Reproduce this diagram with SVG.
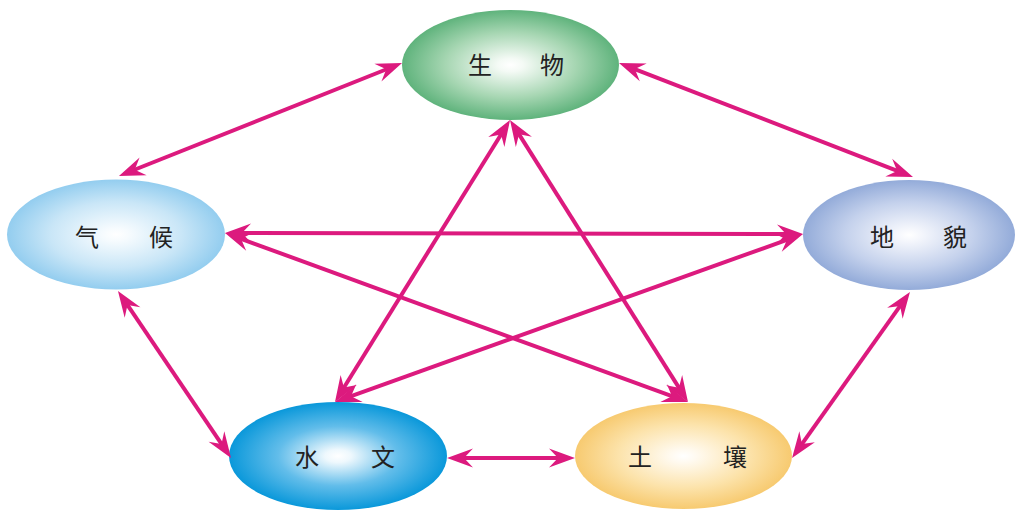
<svg xmlns="http://www.w3.org/2000/svg" width="1015" height="512" viewBox="0 0 1015 512">
<style>
.lbl{font-family:"Noto Sans CJK SC","Noto Sans CJK JP",sans-serif;font-size:24px;fill:#222;text-anchor:middle;dominant-baseline:central}
.con{stroke:#DC1A7E;stroke-width:4;fill:none;marker-start:url(#ah);marker-end:url(#ah)}
</style>
<defs>
<marker id="ah" markerUnits="userSpaceOnUse" viewBox="-27 -10 28 20" refX="-12" refY="0" markerWidth="28" markerHeight="20" orient="auto-start-reverse">
<path d="M0,0 L-26,-9.5 L-17,0 L-26,9.5 Z" fill="#DC1A7E"/>
</marker>
<radialGradient id="gBio" cx="0.5" cy="0.5" r="0.5">
<stop offset="0" stop-color="#ffffff"/><stop offset="0.12" stop-color="#f4faf5"/><stop offset="0.6" stop-color="#a6d6b2"/><stop offset="1" stop-color="#5fb37c"/>
</radialGradient>
<radialGradient id="gCli" cx="0.5" cy="0.5" r="0.5">
<stop offset="0" stop-color="#ffffff"/><stop offset="0.12" stop-color="#f6fbfe"/><stop offset="0.6" stop-color="#c9e6f7"/><stop offset="1" stop-color="#93cdef"/>
</radialGradient>
<radialGradient id="gGeo" cx="0.5" cy="0.5" r="0.5">
<stop offset="0" stop-color="#ffffff"/><stop offset="0.12" stop-color="#f4f6fc"/><stop offset="0.6" stop-color="#c4d1ec"/><stop offset="1" stop-color="#93abd9"/>
</radialGradient>
<radialGradient id="gHyd" cx="0.5" cy="0.5" r="0.5">
<stop offset="0" stop-color="#ffffff"/><stop offset="0.12" stop-color="#eef8fd"/><stop offset="0.55" stop-color="#62bdea"/><stop offset="1" stop-color="#0a98da"/>
</radialGradient>
<radialGradient id="gSoil" cx="0.5" cy="0.5" r="0.5">
<stop offset="0" stop-color="#ffffff"/><stop offset="0.12" stop-color="#fffaf0"/><stop offset="0.6" stop-color="#fce3ab"/><stop offset="1" stop-color="#f7ca70"/>
</radialGradient>
</defs>
<rect width="1015" height="512" fill="#ffffff"/>
<g id="node-bio">
<ellipse cx="510.5" cy="65" rx="108.5" ry="55" fill="url(#gBio)"/>
<text class="lbl" y="63"><tspan x="480">生</tspan><tspan x="552">物</tspan></text>
</g>
<g id="node-climate">
<ellipse cx="116" cy="234.5" rx="109" ry="55" fill="url(#gCli)"/>
<text class="lbl" y="235"><tspan x="87">气</tspan><tspan x="161">候</tspan></text>
</g>
<g id="node-landform">
<ellipse cx="909" cy="235" rx="106" ry="55" fill="url(#gGeo)"/>
<text class="lbl" y="235"><tspan x="882">地</tspan><tspan x="955">貌</tspan></text>
</g>
<g id="node-hydro">
<ellipse cx="338" cy="456" rx="109" ry="54" fill="url(#gHyd)"/>
<text class="lbl" y="455"><tspan x="307">水</tspan><tspan x="383">文</tspan></text>
</g>
<g id="node-soil">
<ellipse cx="683.5" cy="456" rx="108.5" ry="53" fill="url(#gSoil)"/>
<text class="lbl" y="455"><tspan x="640">土</tspan><tspan x="735">壤</tspan></text>
</g>
<g id="connectors">
<line class="con" x1="390.9" y1="67.5" x2="130.1" y2="171.5"/>
<line class="con" x1="630.2" y1="67.3" x2="901.8" y2="172.7"/>
<line class="con" x1="124.7" y1="300.9" x2="224.3" y2="448.1"/>
<line class="con" x1="903" y1="301.8" x2="799" y2="448.2"/>
<line class="con" x1="459" y1="458" x2="563" y2="458"/>
<line class="con" x1="503.7" y1="130.2" x2="341.3" y2="391.8"/>
<line class="con" x1="516.4" y1="130.1" x2="681.6" y2="391.9"/>
<line class="con" x1="237" y1="233" x2="791" y2="234"/>
<line class="con" x1="236.3" y1="237.1" x2="676.7" y2="397.9"/>
<line class="con" x1="791.7" y1="238.1" x2="346.3" y2="397.9"/>
</g>
</svg>
